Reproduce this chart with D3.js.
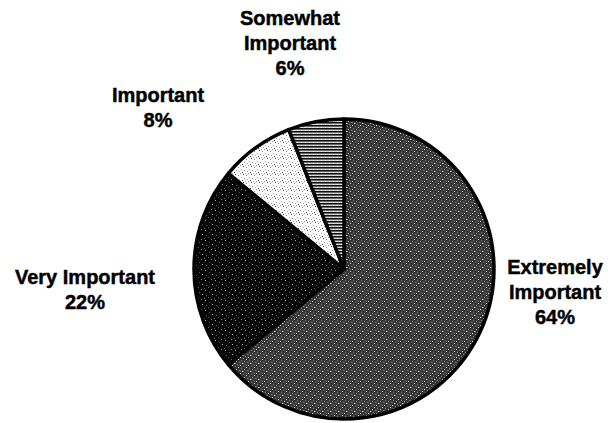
<!DOCTYPE html>
<html>
<head>
<meta charset="utf-8">
<script src="https://cdn.jsdelivr.net/npm/d3@7"></script>
<style>
  html, body { margin: 0; padding: 0; background: #fff; }
  svg { display: block; }
  text { font-family: "Liberation Sans", Arial, sans-serif; font-weight: bold; fill: #000; stroke: #000; stroke-width: 0.45px; }
</style>
</head>
<body>
<svg id="chart" width="615" height="423"></svg>
<script>
// ---- data ----
const categories = ["Extremely Important", "Very Important", "Important", "Somewhat Important"];
const values = [64, 22, 8, 6];
const labelLines = [["Extremely", "Important"], ["Very Important"], ["Important"], ["Somewhat", "Important"]];

// ---- layout (not data) ----
const W = 615, H = 423;
const cx = 344, cy = 269, R = 150;
const labelAnchor = [
  { x: 555, y: 274 },
  { x: 85, y: 284 },
  { x: 158, y: 102 },
  { x: 290, y: 25 }
];
const lineH = 25;
const fills = ["url(#patExt)", "url(#patVery)", "url(#patImp)", "url(#patSome)"];

const svg = d3.select("#chart");
const defs = svg.append("defs");

// Texture patterns (dither-like halftones)
function speckle(id, base, dotColor, pts, size) {
  const p = defs.append("pattern").attr("id", id)
    .attr("patternUnits", "userSpaceOnUse").attr("width", size).attr("height", size);
  p.append("rect").attr("width", size).attr("height", size).attr("fill", base);
  pts.forEach(([x, y, c]) => p.append("rect").attr("x", x).attr("y", y)
    .attr("width", 1).attr("height", 1).attr("fill", c || dotColor));
}
speckle("patExt", "#333333", "#8a8a8a",
  [[0,0,"#eee"],[3,1],[6,2,"#ddd"],[1,3],[4,4,"#bbb"],[7,5],[2,6,"#eee"],[5,7],[0,5,"#666"],[6,0,"#666"],[3,6,"#777"]], 8);
speckle("patVery", "#060606", "#5a5a5a",
  [[1,1,"#aaa"],[5,3],[2,6],[7,0,"#888"],[4,8],[8,5,"#bbb"],[0,9]], 10);
speckle("patImp", "#ffffff", "#8a8a8a",
  [[0,0],[3,1,"#333"],[6,2],[1,4,"#aaa"],[4,5],[2,7,"#333"],[7,6,"#aaa"],[5,0,"#bbb"]], 8);
(function () {
  const p = defs.append("pattern").attr("id", "patSome")
    .attr("patternUnits", "userSpaceOnUse").attr("width", 4).attr("height", 3);
  p.append("rect").attr("width", 4).attr("height", 3).attr("fill", "#d0d0d0");
  p.append("rect").attr("y", 0).attr("width", 4).attr("height", 1).attr("fill", "#111");
  p.append("rect").attr("x", 0).attr("y", 1).attr("width", 4).attr("height", 1).attr("fill", "#666");
  p.append("rect").attr("x", 1).attr("y", 2).attr("width", 1).attr("height", 1).attr("fill", "#fff");
})();

const pie = d3.pie().sort(null).value(d => d)(values);
const arc = d3.arc().innerRadius(0).outerRadius(R);

const g = svg.append("g").attr("transform", `translate(${cx},${cy})`);
g.selectAll("path.slice").data(pie).enter().append("path")
  .attr("class", "slice")
  .attr("d", arc)
  .attr("fill", (d, i) => fills[i])
  .attr("stroke", "#000")
  .attr("stroke-width", 3.5)
  .attr("stroke-linejoin", "round");

// labels
const fmt = v => v + "%";
categories.forEach((c, i) => {
  const lines = labelLines[i].concat([fmt(values[i])]);
  const t = svg.append("text")
    .attr("text-anchor", "middle")
    .attr("font-size", 20)
    .attr("x", labelAnchor[i].x).attr("y", labelAnchor[i].y);
  lines.forEach((ln, j) => {
    t.append("tspan").attr("x", labelAnchor[i].x).attr("dy", j === 0 ? 0 : lineH).text(ln);
  });
});
</script>
</body>
</html>
